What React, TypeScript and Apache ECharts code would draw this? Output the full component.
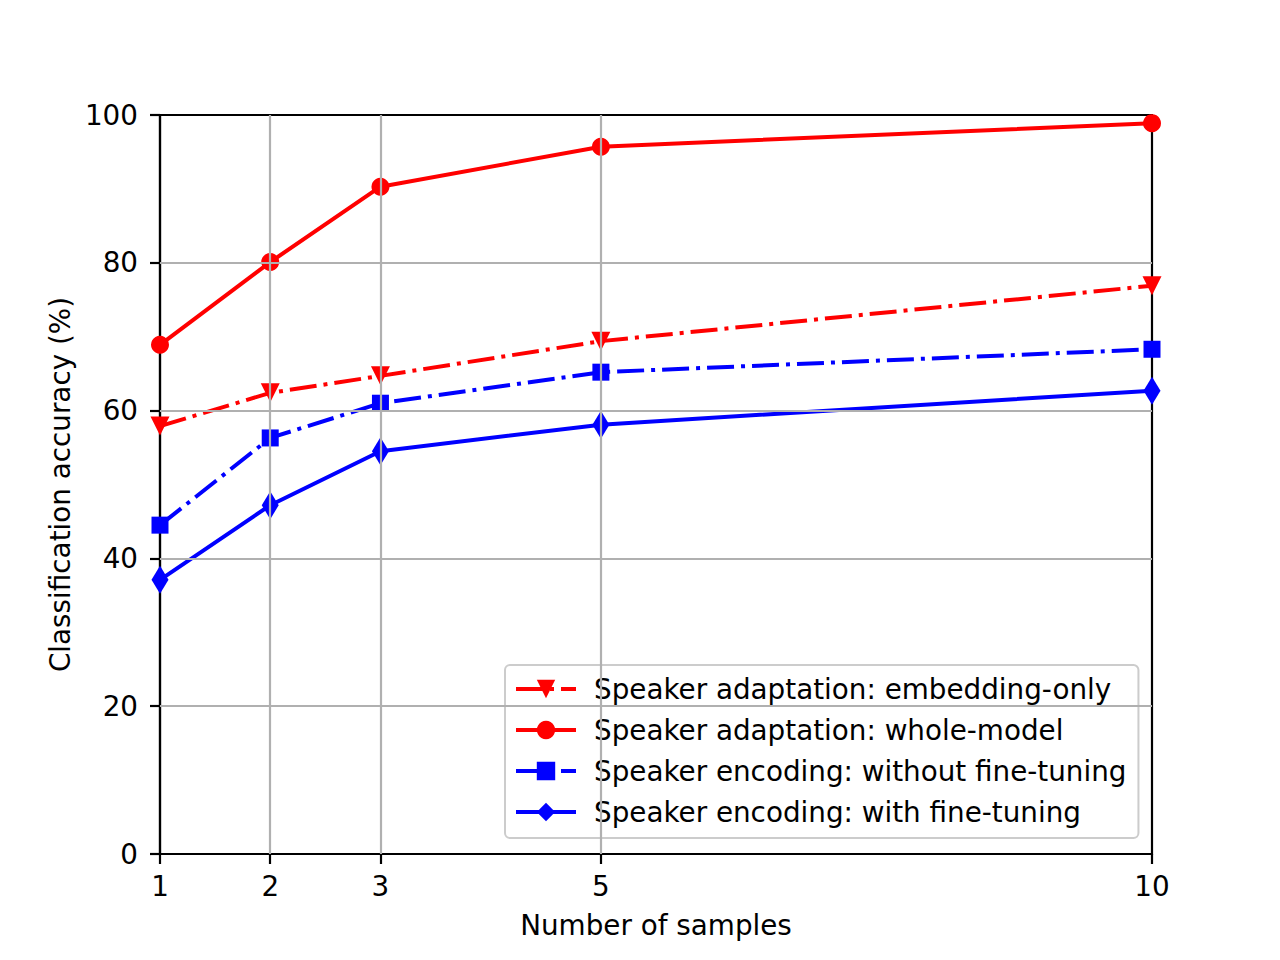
import React, { useEffect, useRef } from "react";
import * as echarts from "echarts";

const xValues = [1, 2, 3, 5, 10];
const xTicks = [1, 2, 3, 5, 10];
const xGridLines = [2, 3, 5];
const yGridLines = [20, 40, 60, 80];

const seriesNames = [
  "Speaker adaptation: embedding-only",
  "Speaker adaptation: whole-model",
  "Speaker encoding: without fine-tuning",
  "Speaker encoding: with fine-tuning",
];
const adaptEmbedding = [57.9, 62.4, 64.7, 69.4, 76.9];
const adaptWhole = [68.9, 80.1, 90.3, 95.7, 98.9];
const encodingNoFt = [44.5, 56.3, 61.0, 65.2, 68.3];
const encodingFt = [37.1, 47.2, 54.5, 58.1, 62.7];

const FONT = "DejaVu Sans";
const FS = 27.8;
const RED = "#ff0000";
const BLUE = "#0000ff";
const DASHDOT = [27, 7, 4, 7];

function pairs(ys: number[]) {
  return xValues.map((x, i) => [x, ys[i]]);
}

export default function App() {
  const ref = useRef<HTMLDivElement>(null);
  useEffect(() => {
    if (!ref.current) return;
    const chart = echarts.init(ref.current, null, { renderer: "svg" });
    const mkSeries = (
      name: string,
      data: number[],
      color: string,
      symbol: string,
      symbolSize: any,
      dashed: boolean,
      rotate = 0
    ) => ({
      name,
      type: "line",
      data: pairs(data),
      symbol,
      symbolSize,
      symbolRotate: rotate,
      clip: false,
      z: 3,
      lineStyle: { color, width: 4, type: dashed ? DASHDOT : "solid" },
      itemStyle: { color, borderWidth: 0 },
      emphasis: { disabled: true },
    });
    const gridLineStyle = { color: "#b0b0b0", width: 2.2, type: "solid" };
    chart.setOption({
      animation: false,
      backgroundColor: "#ffffff",
      textStyle: { fontFamily: FONT },
      grid: {
        left: 160,
        top: 115,
        width: 992,
        height: 739,
        show: true,
        borderColor: "#000000",
        borderWidth: 2.2,
        containLabel: false,
      },
      legend: {
        orient: "vertical",
        left: 505,
        top: 665,
        padding: [9, 12, 11, 9],
        itemGap: 11,
        itemWidth: 60,
        itemHeight: 23,
        backgroundColor: "rgba(255,255,255,0.8)",
        borderColor: "#cccccc",
        borderWidth: 2,
        borderRadius: 5,
        lineStyle: { width: 4 },
        textStyle: { fontFamily: FONT, fontSize: FS, color: "#000", lineHeight: 30, padding: [0, 0, 0, 13] },
        data: seriesNames,
        selectedMode: false,
      },
      xAxis: {
        type: "value",
        min: 1,
        max: 10,
        interval: 1,
        axisLine: { show: true, lineStyle: { color: "#000", width: 2.2 } },
        axisTick: { show: true, length: 10, inside: false, customValues: xTicks, lineStyle: { color: "#000", width: 2.2 } },
        axisLabel: {
          customValues: xTicks,
          showMinLabel: true,
          showMaxLabel: true,
          margin: 18,
          fontSize: FS,
          color: "#000",
          fontFamily: FONT,
          formatter: (v: number) => (xTicks.indexOf(v) >= 0 ? String(v) : ""),
        },
        splitLine: { show: false },
        name: "Number of samples",
        nameLocation: "middle",
        nameGap: 57,
        nameTextStyle: { fontSize: FS, color: "#000", fontFamily: FONT },
      },
      yAxis: {
        type: "value",
        min: 0,
        max: 100,
        interval: 20,
        axisLine: { show: true, lineStyle: { color: "#000", width: 2.2 } },
        axisTick: { show: true, length: 10, inside: false, lineStyle: { color: "#000", width: 2.2 } },
        axisLabel: { margin: 22, fontSize: FS, color: "#000", fontFamily: FONT },
        splitLine: { show: false },
        name: "Classification accuracy (%)",
        nameLocation: "middle",
        nameGap: 86,
        nameTextStyle: { fontSize: FS, color: "#000", fontFamily: FONT },
      },
      series: [
        {
          name: "grid-lines",
          type: "line",
          data: [],
          z: 1,
          silent: true,
          markLine: {
            silent: true,
            symbol: "none",
            label: { show: false },
            lineStyle: gridLineStyle,
            data: [
              ...xGridLines.map((x) => ({ xAxis: x })),
              ...yGridLines.map((y) => ({ yAxis: y })),
            ],
            animation: false,
          },
        },
        mkSeries(seriesNames[0], adaptEmbedding, RED, "triangle", [19, 19], true, 180),
        mkSeries(seriesNames[1], adaptWhole, RED, "circle", 18, false),
        mkSeries(seriesNames[2], encodingNoFt, BLUE, "rect", 17, true),
        mkSeries(seriesNames[3], encodingFt, BLUE, "diamond", [17, 28], false),
      ],
    });
    return () => chart.dispose();
  }, []);
  return (
    <div
      ref={ref}
      style={{ position: "absolute", left: 0, top: 0, width: 1280, height: 960, background: "#fff" }}
    />
  );
}
